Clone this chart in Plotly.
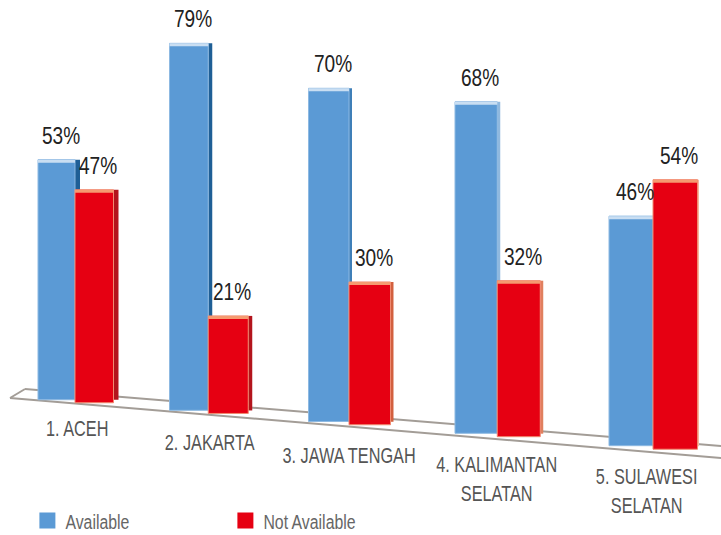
import plotly.graph_objects as go

categories = ["1. ACEH", "2. JAKARTA", "3. JAWA TENGAH", "4. KALIMANTAN<br>SELATAN", "5. SULAWESI<br>SELATAN"]
available = [53, 79, 70, 68, 46]
not_available = [47, 21, 30, 32, 54]

# --- drawing set-up: the axes run in window pixels; the perspective look is a transform of the values
W, H = 721, 535
BLUE, RED = "#5b9ad5", "#e60012"
BLUE_SIDE = ["#1f5f96", "#1f5f96", "#3f7fb8", "#8fb8de", "#ffffff"]
RED_SIDE = ["#b3141c", "#b3141c", "#d2603f", "#e0805f", "#f6b9a0"]
SIDE_W = [5, 4, 3, 3, 1]
n = len(categories)
centre = [75 + 129.5 * i + 3.75 * i * i for i in range(n)]
scale = [4.53 + 0.115 * i for i in range(n)]
w_blue = [37 + 1.75 * i for i in range(n)]
w_red = [38.5 + 1.5 * i for i in range(n)]
floor = lambda x: 398 + 0.08 * (x - 35)

x_blue = [c - w / 2 for c, w in zip(centre, w_blue)]
x_red = [c + w / 2 for c, w in zip(centre, w_red)]
base_blue = [H - floor(x) for x in x_blue]
base_red = [H - floor(x) for x in x_red]
h_blue = [v * s for v, s in zip(available, scale)]
h_red = [v * s for v, s in zip(not_available, scale)]
top_blue = [b + h for b, h in zip(base_blue, h_blue)]
top_red = [b + h for b, h in zip(base_red, h_red)]

fig = go.Figure()


def bars(x, base, y, width, color, line=None):
    fig.add_bar(x=x, base=base, y=y, width=width, marker_color=color,
                marker_line_width=1 if line else 0, marker_line_color=line,
                showlegend=False, hoverinfo="skip")


side_x_b = [x + w / 2 + s / 2 for x, w, s in zip(x_blue, w_blue, SIDE_W)]
side_x_r = [x + w / 2 + s / 2 for x, w, s in zip(x_red, w_red, SIDE_W)]
bars(side_x_b, [b + 3 for b in base_blue], [h - 3 for h in h_blue], SIDE_W, BLUE_SIDE)
bars(x_blue, base_blue, h_blue, w_blue, BLUE, "#8db9e2")
bars(x_blue, [t - 3 for t in top_blue], [3] * n, w_blue, "#c9def2")
bars(side_x_r, [b + 3 for b in base_red], [h - 3 for h in h_red], SIDE_W, RED_SIDE)
bars(x_red, base_red, h_red, w_red, RED, "#f08a70")
bars(x_red, [t - 3 for t in top_red], [3] * n, w_red, "#f59a70")

# legend entries
for name, col in (("Available", BLUE), ("Not Available", RED)):
    fig.add_scatter(x=[None], y=[None], mode="markers", name=name,
                    marker=dict(symbol="square", size=16, color=col))

TXT = dict(family="Liberation Sans, Arial, sans-serif")
for x, t, v in list(zip(x_blue, top_blue, available)) + list(zip(x_red, top_red, not_available)):
    fig.add_annotation(x=x + 4, y=t + 24, text=f"{v}%", showarrow=False, xanchor="center", yanchor="middle",
                       font=dict(size=23, color="#222222", **TXT))

label_dx = [2, 2, 0, -1, -7]
label_y = [428, 442, 455, 479, 491]
for c, d, y, t in zip(centre, label_dx, label_y, categories):
    fig.add_annotation(x=c + d, y=H - y, text=t, showarrow=False, xanchor="center", yanchor="middle",
                       align="center", font=dict(size=22, color="#555555", **TXT))

FLOOR_COL = "#a39d97"
floor_lines = [((10, 398), (721, 458)), ((10, 398), (25, 389)), ((25, 389), (721, 446))]
fig.update_layout(
    shapes=[dict(type="line", x0=a[0], y0=H - a[1], x1=b[0], y1=H - b[1], layer="below",
                 line=dict(color=FLOOR_COL, width=2)) for a, b in floor_lines],
    barmode="overlay", width=W, height=H, margin=dict(l=0, r=0, t=0, b=0, autoexpand=False),
    paper_bgcolor="white", plot_bgcolor="white",
    xaxis=dict(range=[0, W], visible=False),
    yaxis=dict(range=[0, H], visible=False),
    legend=dict(orientation="h", x=0.038, y=-0.012, xanchor="left", yanchor="bottom",
                entrywidth=153, entrywidthmode="pixels", itemwidth=30,
                font=dict(size=21, color="#666666", **TXT), bgcolor="rgba(0,0,0,0)"),
)

# no condensed face is installed, so the regular text is narrowed to the reference's proportions
cat_sel = ",".join(f'.annotation[data-index="{2 * n + i}"] .annotation-text' for i in range(n))
CSS = (".annotation-text{transform-box:fill-box;transform-origin:center;transform:scaleX(.83)} "
       + cat_sel + "{transform:scaleX(.74)} "
       ".legendtext{transform-box:fill-box;transform-origin:left center;transform:translateX(-2px) scaleX(.755)}")
post = ("document.body.style.margin='0';var s=document.createElement('style');s.textContent=%r;"
        "document.head.appendChild(s);" % CSS)
fig.write_html("out.html", config=dict(displayModeBar=False), post_script=post)
